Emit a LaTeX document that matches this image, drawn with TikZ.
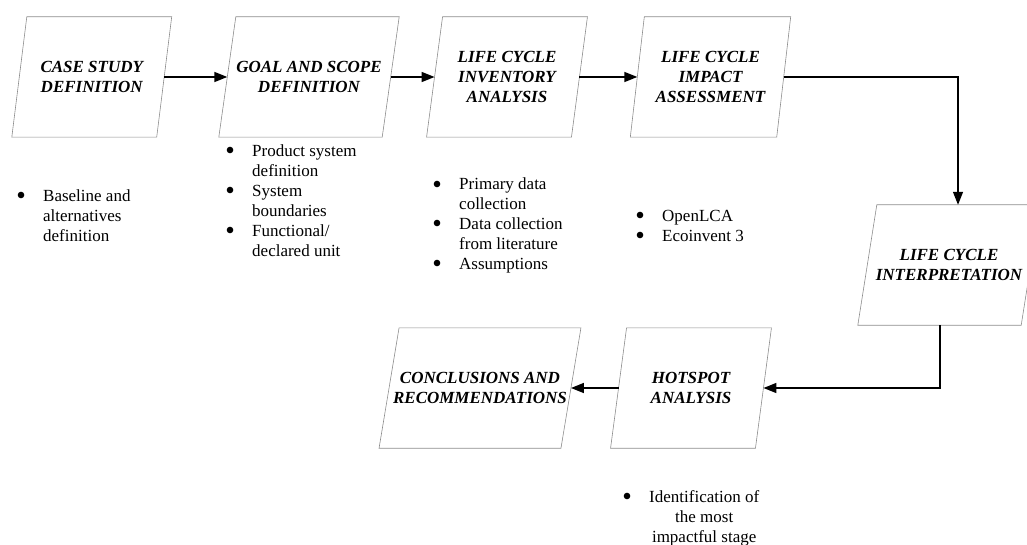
\documentclass[tikz,border=0pt]{standalone}
\usepackage{fontspec}
\setmainfont{Liberation Serif}
\usetikzlibrary{arrows.meta,calc}
\newcommand\drawpgram[2]{\draw[boxline] ([xshift=#2]#1.north west) -- ([xshift=#2]#1.north east) -- ([xshift=-#2]#1.south east) -- ([xshift=-#2]#1.south west) -- cycle;}
\newcommand\bul{\makebox[22pt][l]{\makebox[0pt]{\raisebox{-3pt}{\scalebox{1.6}{\textbullet}}}}}
\begin{document}
\begin{tikzpicture}[x=1pt,y=-1pt,
  stage/.style={minimum width=#1, minimum height=120pt, inner sep=0pt,
    font=\fontsize{17}{20}\selectfont\bfseries\itshape, align=center},
  boxline/.style={draw=black!45, line width=0.6pt},
  arr/.style={-{Triangle[length=13pt,width=10pt]}, line width=1.4pt},
  blist/.style={inner sep=0pt, anchor=base west, font=\fontsize{17}{20}\selectfont}]
\useasboundingbox (0,0) rectangle (1027,545);
% stages
\node[stage=144.5pt] (b1) at (91.75,77) {CASE STUDY\\DEFINITION};
\node[stage=163pt] (b2) at (309,77) {GOAL AND SCOPE\\DEFINITION};
\node[stage=144.5pt] (b3) at (507,77) {LIFE CYCLE\\INVENTORY\\ANALYSIS};
\node[stage=146pt] (b4) at (710.5,77) {LIFE CYCLE\\IMPACT\\ASSESSMENT};
\node[stage=163pt] (b5) at (949,265) {LIFE CYCLE\\INTERPRETATION};
\node[stage=144.5pt] (hs) at (691,388) {HOTSPOT\\ANALYSIS};
\node[stage=181.5pt] (cc) at (480,388) {CONCLUSIONS AND\\RECOMMENDATIONS};
\drawpgram{b1}{7.5pt}
\drawpgram{b2}{8.5pt}
\drawpgram{b3}{8pt}
\drawpgram{b4}{7pt}
\drawpgram{b5}{9.5pt}
\drawpgram{hs}{8pt}
\drawpgram{cc}{10pt}
% connectors
\draw[arr] (b1.east) -- (b2.west);
\draw[arr] (b2.east) -- (b3.west);
\draw[arr] (b3.east) -- (b4.west);
\draw[arr] (b4.east) -| ([xshift=9pt]b5.north);
\draw[arr] ([xshift=-9pt]b5.south) |- (hs.east);
\draw[arr] (hs.west) -- (cc.east);
% bullet lists
\node[blist] (l1) at (21,202) {\begin{tabular}[t]{@{}l@{}l@{}}\bul & Baseline and\\ & alternatives\\ & definition\end{tabular}};
\node[blist] (l2) at (230,157) {\begin{tabular}[t]{@{}l@{}l@{}}\bul & Product system\\ & definition\\ \bul & System\\ & boundaries\\ \bul & Functional/\\ & declared unit\end{tabular}};
\node[blist] (l3) at (437,190) {\begin{tabular}[t]{@{}l@{}l@{}}\bul & Primary data\\ & collection\\ \bul & Data collection\\ & from literature\\ \bul & Assumptions\end{tabular}};
\node[blist] (l4) at (640,222) {\begin{tabular}[t]{@{}l@{}l@{}}\bul & OpenLCA\\ \bul & Ecoinvent 3\end{tabular}};
\node[blist] (l5) at (627,502) {\begin{tabular}[t]{@{}l@{}c@{}}\bul & Identification of\\ & the most\\ & impactful stage\end{tabular}};
\end{tikzpicture}
\end{document}
